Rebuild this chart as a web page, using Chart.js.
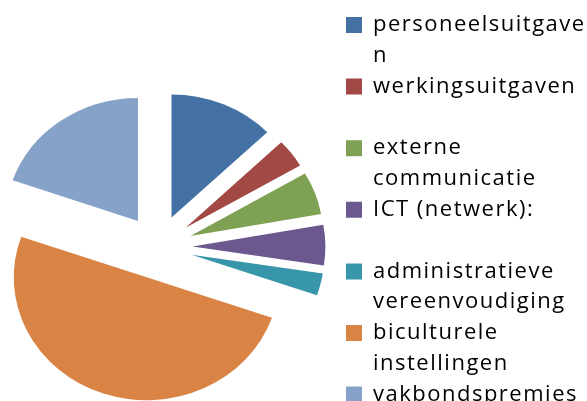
<!DOCTYPE html>
<html>
<head>
<meta charset="utf-8">
<script src="https://cdn.jsdelivr.net/npm/chart.js@4"></script>
<style>
  html, body { margin: 0; padding: 0; background: #fff; overflow: hidden; }
  #wrap { width: 587px; height: 401px; overflow: hidden; position: relative; }
  canvas { position: absolute; left: -40px; top: 0; }
</style>
</head>
<body>
<div id="wrap"><canvas id="chart" width="670" height="490"></canvas></div>
<script>
// legend labels (Excel wrapped them onto two lines)
const labels = [
  ['personeelsuitgave', 'n'],
  ['werkingsuitgaven', ''],
  ['externe', 'communicatie'],
  ['ICT (netwerk):', ''],
  ['administratieve', 'vereenvoudiging'],
  ['biculturele', 'instellingen'],
  ['vakbondspremies', '']
];
// share of budget, %
const values = [12.8, 3.75, 5.6, 5.3, 2.9, 50.0, 19.65];
const colors = ['#4371a3', '#a24845', '#7ea154', '#6b588f', '#3896aa', '#d98444', '#86a2c8'];

const fontSize = 22;
const fontFamily = "'Open Sans', sans-serif";
const letterSpacing = '1.5px';
const boxSize = 16;
const shift = 40;              // canvas sits 40px left of the page edge
const legendX = 346 + shift;   // where the legend boxes start
const pieCenterX = 158 + shift;
const padTop = 14;
const explode = 32;            // px each slice is pulled out
const stretchX = 1.08;         // the source pie is slightly wider than tall

// work out paddings so the legend lands at legendX and the pie centre at pieCenterX
const canvas = document.getElementById('chart');
const mctx = canvas.getContext('2d');
mctx.font = fontSize + 'px ' + fontFamily;
mctx.letterSpacing = letterSpacing;
let widest = 0;
labels.forEach(lines => {
  const longest = lines.reduce((a, b) => a.length > b.length ? a : b);
  widest = Math.max(widest, mctx.measureText(longest).width);
});
const legendWidth = boxSize + fontSize / 2 + widest + 10;
const padRight = canvas.width - legendX - legendWidth;
const padLeft = 2 * pieCenterX - legendX;
const padBottom = canvas.height + padTop - 2 * 247;

const spacingPlugin = {
  id: 'spacing',
  beforeUpdate(chart) { chart.ctx.letterSpacing = letterSpacing; },
  beforeDraw(chart) { chart.ctx.letterSpacing = letterSpacing; }
};

// Excel-style exploded slices: move every arc out along its bisector
const explodePlugin = {
  id: 'explode',
  beforeDatasetDraw(chart, args) {
    const ctx = chart.ctx;
    const arcs = args.meta.data;
    if (!arcs.length) return;
    const cx = arcs[0].x;
    ctx.save();
    ctx.translate(cx, 0);
    ctx.scale(stretchX, 1);
    ctx.translate(-cx, 0);
    arcs.forEach(arc => {
      const mid = (arc.startAngle + arc.endAngle) / 2;
      ctx.save();
      ctx.translate(Math.cos(mid) * explode, Math.sin(mid) * explode);
      arc.draw(ctx);
      ctx.restore();
    });
    ctx.restore();
    return false;
  }
};

new Chart(canvas, {
  type: 'pie',
  data: {
    labels: labels,
    datasets: [{
      data: values,
      backgroundColor: colors,
      borderWidth: 0,
      hoverOffset: 0,
      radius: 123
    }]
  },
  options: {
    responsive: false,
    animation: false,
    events: [],
    layout: {
      padding: { left: padLeft, right: padRight, top: padTop, bottom: padBottom }
    },
    plugins: {
      tooltip: { enabled: false },
      legend: {
        display: true,
        position: 'right',
        align: 'start',
        labels: {
          boxWidth: boxSize,
          boxHeight: boxSize,
          padding: 0,
          color: '#000',
          font: { family: fontFamily, size: fontSize, lineHeight: 1.4 }
        }
      }
    }
  },
  plugins: [spacingPlugin, explodePlugin]
});
</script>
</body>
</html>
